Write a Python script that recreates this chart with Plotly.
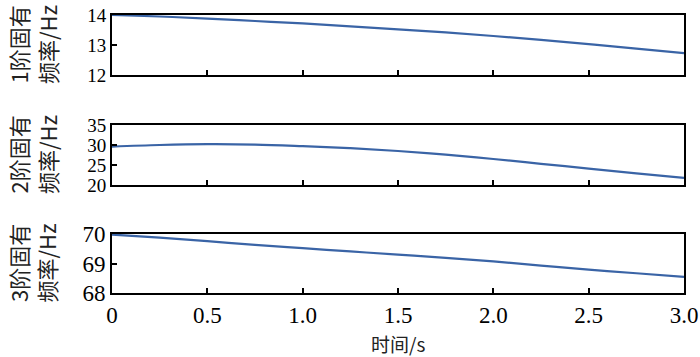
import plotly.graph_objects as go
from plotly.subplots import make_subplots

t = [0, 0.25, 0.5, 0.75, 1.0, 1.25, 1.5, 1.75, 2.0, 2.25, 2.5, 2.75, 3.0]
f1 = [14.0, 13.95, 13.88, 13.80, 13.72, 13.62, 13.52, 13.42, 13.30, 13.17, 13.03, 12.88, 12.73]
f2 = [29.6, 30.0, 30.2, 30.1, 29.7, 29.2, 28.5, 27.6, 26.5, 25.3, 24.1, 22.9, 21.8]
f3 = [69.98, 69.88, 69.76, 69.63, 69.52, 69.41, 69.30, 69.19, 69.07, 68.93, 68.79, 68.67, 68.55]

ylabels = ["1阶固有<br>频率/Hz", "2阶固有<br>频率/Hz", "3阶固有<br>频率/Hz"]
yranges = [[12, 14], [20, 35], [68, 70]]
ytickvals = [[12, 13, 14], [20, 25, 30, 35], [68, 69, 70]]
xtickvals = [0, 0.5, 1.0, 1.5, 2.0, 2.5, 3.0]
xticktext = ["0", "0.5", "1.0", "1.5", "2.0", "2.5", "3.0"]
xlabel = "时间/s"

FONT = "Liberation Serif, Times New Roman, Noto Sans CJK SC, serif"
CJK = "Noto Sans CJK SC, Liberation Serif, serif"
COLOR = "#3a64a6"

fig = make_subplots(rows=3, cols=1, shared_xaxes=False, vertical_spacing=0.0)

W, H = 700, 357
ml, mr, mt, mb = 112, 16, 15, 64
ph = H - mt - mb
def frac(top_px, bot_px):
    return [(H - mb - bot_px) / ph, (H - mb - top_px) / ph]

domains = [frac(15, 75), frac(125, 185), frac(234, 293)]
domains = [[max(0, a), min(1, b)] for a, b in domains]

for i, f in enumerate([f1, f2, f3]):
    fig.add_trace(go.Scatter(x=t, y=f, mode="lines", line=dict(color=COLOR, width=2.2, shape="spline"),
                             showlegend=False), row=i + 1, col=1)

tfs = [19, 19, 23]
for i in range(3):
    ax = "yaxis" if i == 0 else f"yaxis{i+1}"
    xa = "xaxis" if i == 0 else f"xaxis{i+1}"
    fig.layout[ax].update(domain=domains[i], range=yranges[i], tickvals=ytickvals[i],
                          ticks="inside", ticklen=5, tickwidth=1.5, tickcolor="black",
                          showline=True, linecolor="black", linewidth=2, mirror=True,
                          showgrid=False, zeroline=False,
                          tickfont=dict(family=FONT, size=tfs[i], color="black"))
    fig.layout[xa].update(range=[0, 3], tickvals=xtickvals, ticktext=xticktext,
                          ticks="inside", ticklen=5, tickwidth=1.5, tickcolor="black",
                          showline=True, linecolor="black", linewidth=2, mirror=True,
                          showgrid=False, zeroline=False, showticklabels=(i == 2),
                          tickfont=dict(family=FONT, size=23, color="black"))
    fig.add_annotation(text=ylabels[i], xref="paper", yref="paper", x=(32 - ml) / (W - ml - mr),
                       y=sum(domains[i]) / 2, xanchor="center", yanchor="middle", textangle=-90,
                       showarrow=False, font=dict(family=CJK, size=22, color="#222"))

fig.add_annotation(text=xlabel, xref="paper", yref="paper", x=0.5, y=(H - mb - 343) / ph,
                   xanchor="center", yanchor="middle", showarrow=False,
                   font=dict(family=CJK, size=19, color="#222"))

fig.update_layout(width=W, height=H, margin=dict(l=ml, r=mr, t=mt, b=mb, autoexpand=False),
                  plot_bgcolor="white", paper_bgcolor="white")
fig.write_html("out.html", config={"displayModeBar": False},
               post_script="document.body.style.margin='0';document.body.style.overflow='hidden';")
